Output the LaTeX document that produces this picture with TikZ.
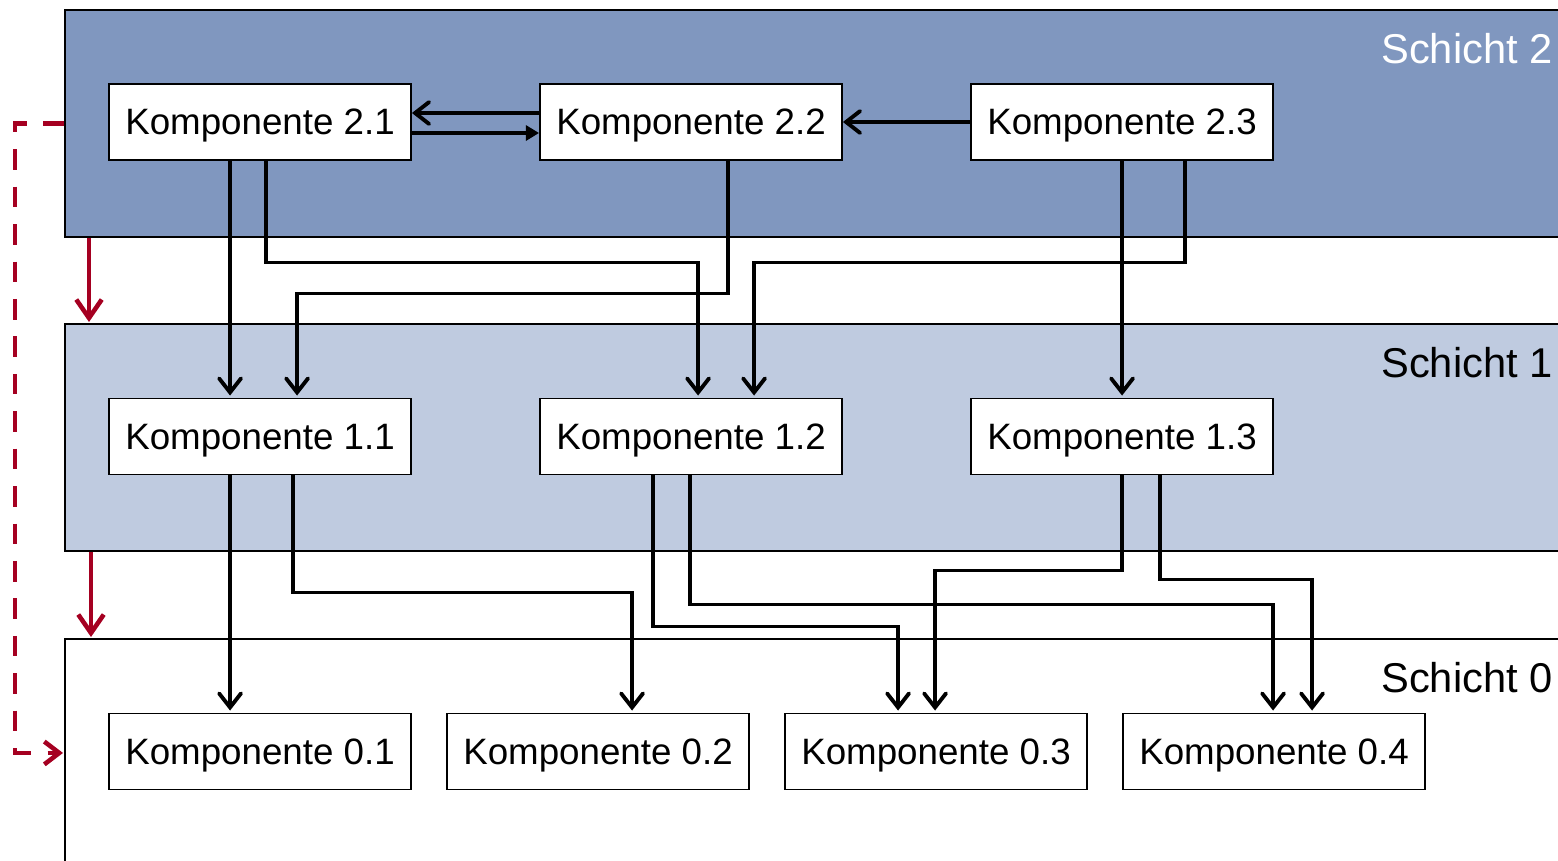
\documentclass[tikz,border=0pt]{standalone}
\usepackage{fontspec}
\setmainfont{Liberation Sans}
\usetikzlibrary{arrows.meta,calc}
\definecolor{layertwo}{HTML}{8097BF}
\definecolor{layerone}{HTML}{BFCBE0}
\definecolor{redline}{HTML}{A50021}
\tikzset{
  layer/.style={draw=black, line width=1.1pt, minimum width=30.6cm, anchor=north west, inner sep=0pt},
  comp/.style={draw=black, fill=white, line width=1.1pt, minimum width=6.04cm, minimum height=1.52cm, inner sep=0pt, text height=15pt, text depth=0.5pt, font=\fontsize{20.9}{24}\selectfont},
  layerlabel/.style={anchor=base west, inner sep=0pt, font=\fontsize{23.7}{28}\selectfont},
  conn/.style={line width=2.2pt, -{Straight Barb[length=8pt,width=12.5pt,line cap=round]}},
  connfill/.style={line width=2.2pt, -{Triangle[length=7.5pt,width=8.5pt]}},
  redarrow/.style={draw=redline, line width=2.6pt, -{Straight Barb[length=10.5pt,width=14.5pt]}},
  reddash/.style={draw=redline, line width=2.6pt, dash pattern=on 11.7pt off 9.6pt, -{Straight Barb[length=8.5pt,width=13pt]}}
}
\begin{document}
\begin{tikzpicture}[x=0.02cm, y=-0.02cm]
\useasboundingbox (0,0) rectangle (1558,860);
% layers
\node[layer, fill=layertwo, minimum height=4.54cm] (L2) at (64,9) {};
\node[layer, fill=layerone, minimum height=4.54cm] (L1) at (64,323) {};
\node[layer, fill=white, minimum height=4.56cm] (L0) at (64,638) {};
\node[layerlabel, text=white] (t2) at ($(L2.north west)+(1317,54)$) {Schicht 2};
\node[layerlabel] (t1) at ($(L1.north west)+(1317,54)$) {Schicht 1};
\node[layerlabel] (t0) at ($(L0.north west)+(1317,54)$) {Schicht 0};
% components
\node[comp] (b21) at (260,122) {Komponente 2.1};
\node[comp] (b22) at (691,122) {Komponente 2.2};
\node[comp] (b23) at (1122,122) {Komponente 2.3};
\node[comp] (b11) at (260,436.5) {Komponente 1.1};
\node[comp] (b12) at (691,436.5) {Komponente 1.2};
\node[comp] (b13) at (1122,436.5) {Komponente 1.3};
\node[comp] (b01) at (260,751.5) {Komponente 0.1};
\node[comp] (b02) at (598,751.5) {Komponente 0.2};
\node[comp] (b03) at (936,751.5) {Komponente 0.3};
\node[comp] (b04) at (1274,751.5) {Komponente 0.4};
% layer 2 horizontal
\draw[conn] ($(b22.west)+(0,-9)$) -- ($(b21.east)+(0,-9)$);
\draw[connfill] ($(b21.east)+(0,11)$) -- ($(b22.west)+(0,11)$);
\draw[conn] (b23.west) -- (b22.east);
% layer 2 -> layer 1
\draw[conn] ($(b21.south west)+(122,0)$) -- ($(b11.north west)+(122,-2)$);
\draw[conn] ($(b21.south west)+(158,0)$) |- ($(b12.north west)+(159,-135)$) -- ($(b12.north west)+(159,-2)$);
\draw[conn] ($(b22.south west)+(189,0)$) |- ($(b11.north west)+(189,-104)$) -- ($(b11.north west)+(189,-2)$);
\draw[conn] ($(b23.south west)+(215,0)$) |- ($(b12.north west)+(215,-135)$) -- ($(b12.north west)+(215,-2)$);
\draw[conn] ($(b23.south west)+(152,0)$) -- ($(b13.north west)+(152,-2)$);
% layer 1 -> layer 0
\draw[conn] ($(b11.south west)+(122,0)$) -- ($(b01.north west)+(122,-2)$);
\draw[conn] ($(b11.south west)+(185,0)$) |- ($(b02.north west)+(186,-120)$) -- ($(b02.north west)+(186,-2)$);
\draw[conn] ($(b12.south west)+(114,0)$) |- ($(b03.north west)+(114,-86)$) -- ($(b03.north west)+(114,-2)$);
\draw[conn] ($(b12.south west)+(151,0)$) |- ($(b04.north west)+(151,-108)$) -- ($(b04.north west)+(151,-2)$);
\draw[conn] ($(b13.south west)+(152,0)$) |- ($(b03.north west)+(151,-142)$) -- ($(b03.north west)+(151,-2)$);
\draw[conn] ($(b13.south west)+(190,0)$) |- ($(b04.north west)+(190,-133)$) -- ($(b04.north west)+(190,-2)$);
% red layer arrows
\draw[redarrow] ($(L2.south west)+(25,0)$) -- ($(L1.north west)+(25,-1)$);
\draw[redarrow] ($(L1.south west)+(27,0)$) -- ($(L0.north west)+(27,-1)$);
\coordinate (dl) at ($(L2.west)+(-49,0)$);
\draw[reddash] (L2.west) -- (dl) |- ($(L0.west)+(-1,0)$);
\end{tikzpicture}
\end{document}
